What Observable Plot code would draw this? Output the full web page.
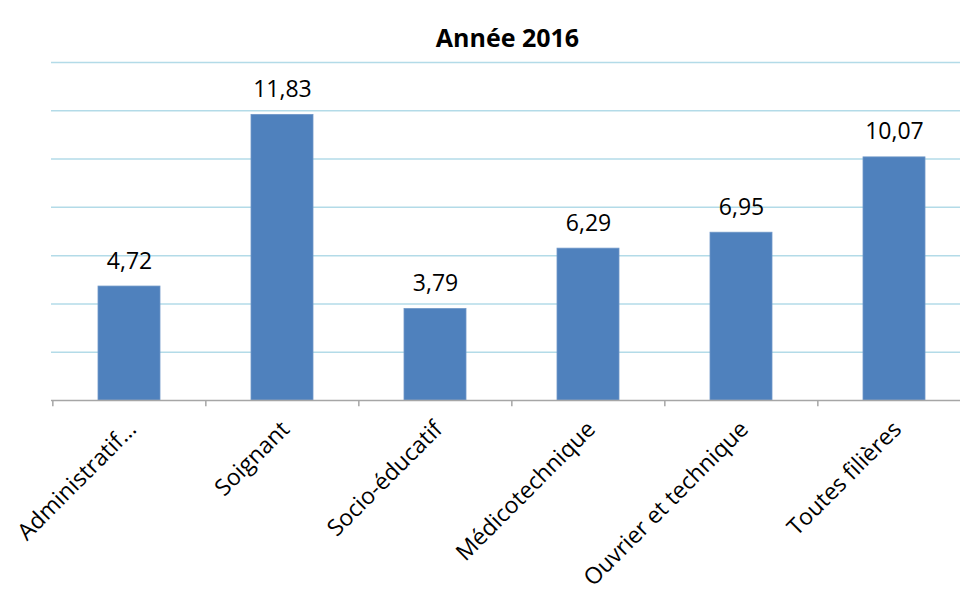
<!DOCTYPE html>
<html>
<head>
<meta charset="utf-8">
<script src="https://cdn.jsdelivr.net/npm/d3@7"></script>
<script src="https://cdn.jsdelivr.net/npm/@observablehq/plot@0.6"></script>
<style>
  html, body { margin: 0; padding: 0; background: #fff; overflow: hidden; }
  #chart svg { display: block; }
</style>
</head>
<body>
<div id="chart"></div>
<script>
const title = "Année 2016";
const categories = ["Administratif…", "Soignant", "Socio-éducatif", "Médicotechnique", "Ouvrier et technique", "Toutes filières"];
const values = [4.72, 11.83, 3.79, 6.29, 6.95, 10.07];
const gridTicks = [2, 4, 6, 8, 10, 12, 14];
const yDomain = [0, 14];

const data = categories.map((c, i) => ({category: c, value: values[i], label: values[i].toFixed(2).replace(".", ",")}));

const W = 960, H = 592;
const mL = 51, mR = -11;
const step = (W - mL - mR) / categories.length;
const font = "'Open Sans', sans-serif";

const chart = Plot.plot({
  width: W,
  height: H,
  marginLeft: mL,
  marginRight: mR,
  marginTop: 62,
  marginBottom: 192,
  style: {fontFamily: font, background: "#fff", overflow: "hidden"},
  x: {domain: categories, paddingInner: 0.595, paddingOuter: 0.2975, axis: null},
  y: {domain: yDomain, axis: null},
  marks: [
    Plot.ruleY(gridTicks, {stroke: "#b3dbe8", strokeWidth: 1.5}),
    Plot.barY(data, {x: "category", y: "value", fill: "#4f81bd", stroke: "#6f97c8", strokeWidth: 0.8}),
    Plot.ruleY([0], {stroke: "#a6a6a6", strokeWidth: 1.5}),
    Plot.ruleX(categories, {x: d => d, y1: 0, y2: -0.26, dx: -step / 2, stroke: "#a6a6a6", strokeWidth: 1.5}),
    Plot.text(data, {x: "category", y: "value", text: "label", lineAnchor: "bottom", dy: -18, fontSize: 23, fill: "#000"}),
    Plot.text(categories, {x: d => d, y: () => 0, text: d => d, rotate: -45, textAnchor: "end", lineAnchor: "middle", dx: 3, dy: 25, fontSize: 23, fill: "#000"}),
    Plot.text([title], {frameAnchor: "top", text: d => d, dx: -4, dy: -33, fontSize: 25, fontWeight: "bold", fill: "#000"})
  ]
});
document.getElementById("chart").appendChild(chart);
</script>
</body>
</html>
